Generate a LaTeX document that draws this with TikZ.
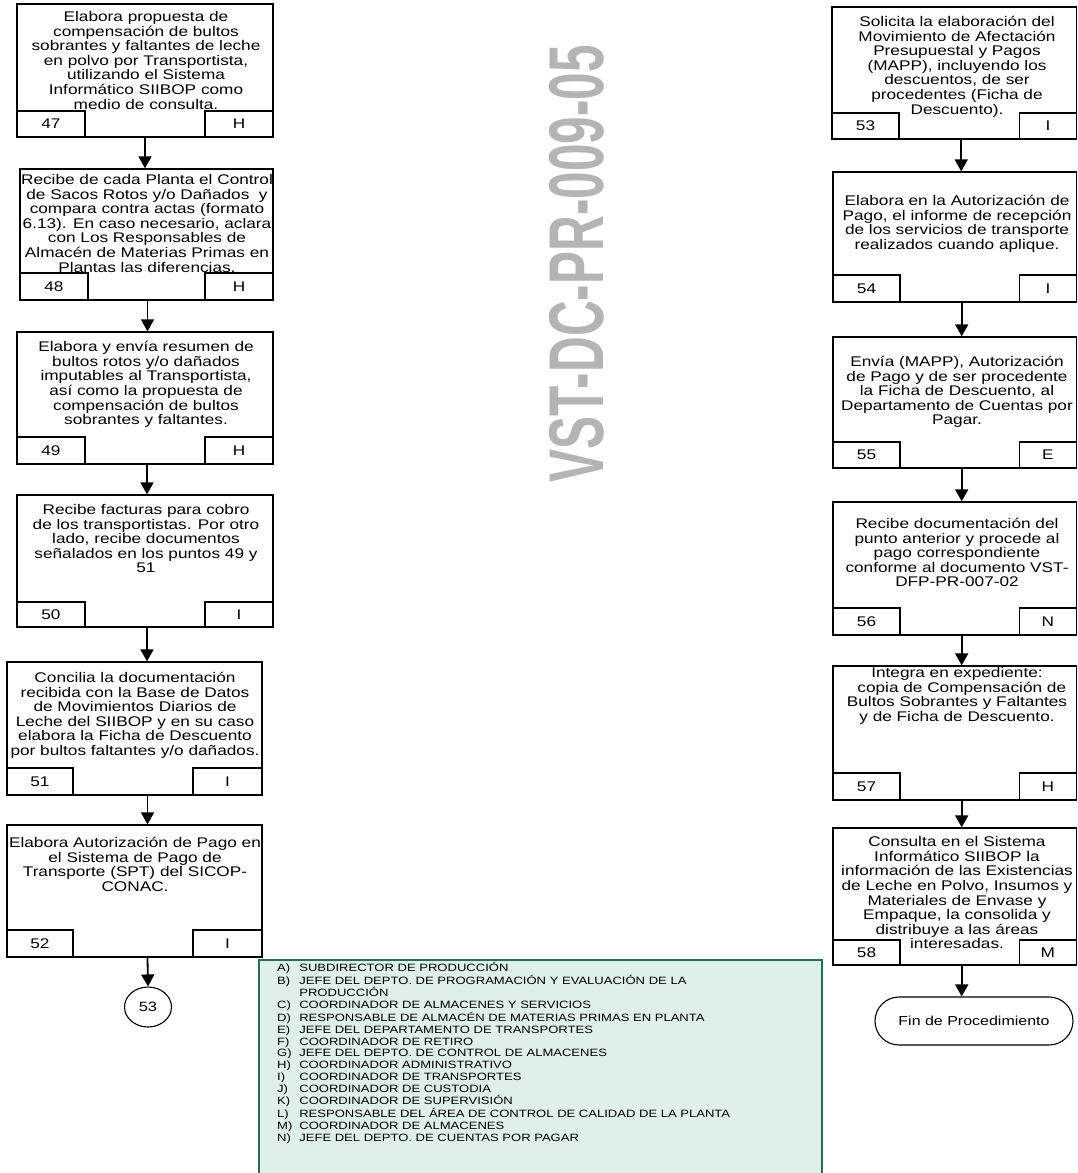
\documentclass[tikz,border=0pt]{standalone}
\usepackage{fontspec}
\setmainfont{Liberation Sans}
\usetikzlibrary{arrows.meta,fit,shapes.geometric}

\definecolor{legfill}{RGB}{222,240,231}
\definecolor{legline}{RGB}{40,110,85}
\definecolor{wmgray}{RGB}{180,180,180}

% text of a step box, centred lines, slightly widened
\newcommand{\bodytext}[1]{\scalebox{1.23}[1]{\fontsize{14}{14.6}\selectfont\begin{tabular}{@{}c@{}}#1\end{tabular}}}
\newcommand{\legtext}[1]{\scalebox{1.23}[1]{\fontsize{10.6}{11.8}\selectfont\begin{tabular}{@{}p{18pt}@{}l@{}}#1\end{tabular}}}

\tikzset{
  stepbox/.style={draw, line width=1.3pt, rectangle, inner sep=0pt},
  cellbox/.style={draw, line width=1.3pt, rectangle, inner sep=0pt},
  celltext/.style={inner sep=0pt, font=\fontsize{14}{14}\selectfont, xscale=1.23, transform shape},
  txt/.style={anchor=north, inner sep=0pt},
  flow/.style={line width=1.8pt, -{Triangle[width=13pt,length=12pt]}},
}

% step box: name, x1, y1, x2, y2, top of the cells, number, responsible
\def\lcw{68}\def\rcw{68}
\newcommand{\procstep}[8]{%
  \node[stepbox, fit={(#2,#3) (#4,#5)}] (#1) {};
  \node[cellbox, fit={(#2,#6) (#2+\lcw,#5)}] (#1n) {};
  \node[celltext] at (#1n.center) {#7};
  \node[cellbox, fit={(#4-\rcw,#6) (#4,#5)}] (#1r) {};
  \node[celltext] at (#1r.center) {#8};
}

\begin{document}
\begin{tikzpicture}[x=1pt, y=-1pt]
\useasboundingbox (0,0) rectangle (1077,1173);
\clip (0,0) rectangle (1077,1173);

% document code, printed vertically
\node[rotate=90, text=wmgray, inner sep=0pt] (wm) at (577,264)
  {\scalebox{1}[1.57]{\fontsize{49.5}{50}\selectfont\bfseries VST-DC-PR-009-05}};

% ---------------- left column ----------------
\def\lcw{68}\def\rcw{68}
\procstep{s47}{17}{4}{273}{137}{111}{47}{H}
\procstep{s48}{20}{169}{273}{300}{273}{48}{H}
\procstep{s49}{17}{332}{273}{464}{437}{49}{H}
\procstep{s50}{17}{495}{273}{627}{602}{50}{I}
\def\lcw{66}\def\rcw{69}
\procstep{s51}{7}{662}{262}{795}{768}{51}{I}
\procstep{s52}{7}{825}{262}{957}{930}{52}{I}

\node[txt] (t47) at (146,11) {\bodytext{Elabora propuesta de\\compensación de bultos\\sobrantes y faltantes de leche\\en polvo por Transportista,\\utilizando el Sistema\\Informático SIIBOP como\\medio de consulta.}};
\node[txt] (t48) at (147,174) {\bodytext{Recibe de cada Planta el Control\\de Sacos Rotos y/o Dañados\ \ y\\compara contra actas (formato\\6.13). En caso necesario, aclara\\con Los Responsables de\\Almacén de Materias Primas en\\Plantas las diferencias.}};
\node[txt] (t49) at (146,341) {\bodytext{Elabora y envía resumen de\\bultos rotos y/o dañados\\imputables al Transportista,\\así como la propuesta de\\compensación de bultos\\sobrantes y faltantes.}};
\node[txt] (t50) at (146,504) {\bodytext{Recibe facturas para cobro\\de los transportistas. Por otro\\lado, recibe documentos\\señalados en los puntos 49 y\\51}};
\node[txt] (t51) at (135,672) {\bodytext{Concilia la documentación\\recibida con la Base de Datos\\de Movimientos Diarios de\\Leche del SIIBOP y en su caso\\elabora la Ficha de Descuento\\por bultos faltantes y/o dañados.}};
\node[txt] (t52) at (135,837) {\bodytext{Elabora Autorización de Pago en\\el Sistema de Pago de\\Transporte (SPT) del SICOP-\\CONAC.}};

\node[draw, ellipse, line width=1.1pt, minimum width=47pt, minimum height=40pt, inner sep=0pt] (c53) at (148,1007)
  {\scalebox{1.23}[1]{\fontsize{13.5}{13.5}\selectfont 53}};

\draw[flow] (s47.south) -- (s47.south |- s48.north);
\draw[flow] ([xshift=1pt]s48.south) -- ([xshift=1pt]s48.south |- s49.north);
\draw[flow] ([xshift=2pt]s49.south) -- ([xshift=2pt]s49.south |- s50.north);
\draw[flow] ([xshift=2pt]s50.south) -- ([xshift=2pt]s50.south |- s51.north);
\draw[flow] ([xshift=13pt]s51.south) -- ([xshift=13pt]s51.south |- s52.north);
\draw[flow] ([xshift=13pt]s52.south) -- (c53.north);

% ---------------- right column ----------------
\def\lcw{67}\def\rcw{57}
\procstep{s53}{832}{7}{1076.4}{139}{113}{53}{I}
\procstep{s54}{833}{172}{1076.4}{302}{275}{54}{I}
\procstep{s55}{833}{337}{1076.4}{468}{442}{55}{E}
\procstep{s56}{833}{502}{1076.4}{635}{608}{56}{N}
\procstep{s57}{833}{666}{1076.4}{800}{773}{57}{H}
\procstep{s58}{833}{828}{1076.4}{965}{940}{58}{M}

\node[txt] (t53) at (957,16) {\bodytext{Solicita la elaboración del\\Movimiento de Afectación\\Presupuestal y Pagos\\(MAPP), incluyendo los\\descuentos, de ser\\procedentes (Ficha de\\Descuento).}};
\node[txt] (t54) at (957,195) {\bodytext{Elabora en la Autorización de\\Pago, el informe de recepción\\de los servicios de transporte\\realizados cuando aplique.}};
\node[txt] (t55) at (957,356) {\bodytext{Envía (MAPP), Autorización\\de Pago y de ser procedente\\la Ficha de Descuento, al\\Departamento de Cuentas por\\Pagar.}};
\node[txt] (t56) at (957,518) {\bodytext{Recibe documentación del\\punto anterior y procede al\\pago correspondiente\\conforme al documento VST-\\DFP-PR-007-02}};
\node[txt] (t57) at (957,667) {\bodytext{Integra en expediente:\\\ \ copia de Compensación de\\Bultos Sobrantes y Faltantes\\y de Ficha de Descuento.}};
\node[txt] (t58) at (957,836) {\bodytext{Consulta en el Sistema\\Informático SIIBOP la\\información de las Existencias\\de Leche en Polvo, Insumos y\\Materiales de Envase y\\Empaque, la consolida y\\distribuye a las áreas\\interesadas.}};

\node[draw, line width=1.1pt, rounded corners=24pt, minimum width=198pt, minimum height=48pt,
      inner sep=0pt] (fin) at (974,1021)
  {\scalebox{1.23}[1]{\fontsize{13}{13}\selectfont Fin de Procedimiento}};

\draw[flow] ([xshift=7pt]s53.south) -- ([xshift=7pt]s53.south |- s54.north);
\draw[flow] ([xshift=7pt]s54.south) -- ([xshift=7pt]s54.south |- s55.north);
\draw[flow] ([xshift=7pt]s55.south) -- ([xshift=7pt]s55.south |- s56.north);
\draw[flow] ([xshift=7pt]s56.south) -- ([xshift=7pt]s56.south |- s57.north);
\draw[flow] ([xshift=7pt]s57.south) -- ([xshift=7pt]s57.south |- s58.north);
\draw[flow] ([xshift=7pt]s58.south) -- ([xshift=7pt]s58.south |- fin.north);

% ---------------- legend of responsibles ----------------
\node[draw=legline, fill=legfill, line width=1.2pt, inner sep=0pt, fit={(259,960) (822,1190)}] (leg) {};
\node[anchor=north west, inner sep=0pt] (legt) at (277,962) {\legtext{%
A) & SUBDIRECTOR DE PRODUCCIÓN\\
B) & JEFE DEL DEPTO. DE PROGRAMACIÓN Y EVALUACIÓN DE LA\\
   & PRODUCCIÓN\\
C) & COORDINADOR DE ALMACENES Y SERVICIOS\\
D) & RESPONSABLE DE ALMACÉN DE MATERIAS PRIMAS EN PLANTA\\
E) & JEFE DEL DEPARTAMENTO DE TRANSPORTES\\
F) & COORDINADOR DE RETIRO\\
G) & JEFE DEL DEPTO. DE CONTROL DE ALMACENES\\
H) & COORDINADOR ADMINISTRATIVO\\
I) & COORDINADOR DE TRANSPORTES\\
J) & COORDINADOR DE CUSTODIA\\
K) & COORDINADOR DE SUPERVISIÓN\\
L) & RESPONSABLE DEL ÁREA DE CONTROL DE CALIDAD DE LA PLANTA\\
M) & COORDINADOR DE ALMACENES\\
N) & JEFE DEL DEPTO. DE CUENTAS POR PAGAR}};

\end{tikzpicture}
\end{document}
